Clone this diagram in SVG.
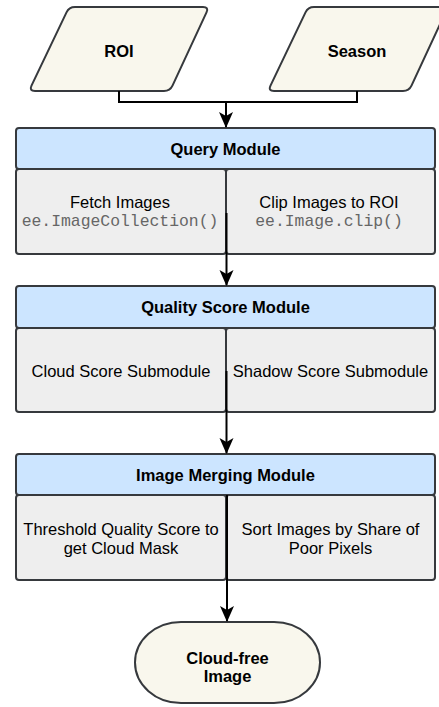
<svg xmlns="http://www.w3.org/2000/svg" width="439" height="707" viewBox="0 0 439 707">
<defs>
<style>
.io{fill:#f9f7ed;stroke:#36393d;stroke-width:2}
.hd{fill:#cce5ff;stroke:#36393d;stroke-width:2}
.sb{fill:#eeeeee;stroke:#36393d;stroke-width:2}
.t{font-family:"Liberation Sans",Arial,sans-serif;font-size:16.5px;fill:#000;text-anchor:middle}
.b{font-weight:bold}
.m{font-family:"Liberation Mono","Courier New",monospace;font-size:16.4px;fill:#666;text-anchor:middle}
.c{fill:none;stroke:#000;stroke-width:2}
</style>
<marker id="ah" viewBox="0 0 16 16" refX="15" refY="8" markerWidth="16" markerHeight="16" markerUnits="userSpaceOnUse" orient="auto">
<path d="M0,1 L16,8 L0,15 L4,8 Z" fill="#000"/>
</marker>
</defs>
<g id="roi">
<path class="io" d="M75,7 L203,7 Q209,7 206.5,12.4 L172.5,85.6 Q170,91 164,91 L35,91 Q29,91 31.5,85.6 L66.5,12.4 Q69,7 75,7 Z"/>
<text class="t b" x="119" y="56.5">ROI</text>
</g>
<g id="season">
<path class="io" d="M314,7 L442,7 Q448,7 445.5,12.4 L411.5,85.6 Q409,91 403,91 L274,91 Q268,91 270.5,85.6 L305.5,12.4 Q308,7 314,7 Z"/>
<text class="t b" x="357" y="56.5">Season</text>
</g>
<g id="query">
<rect class="hd" x="16" y="128" width="419" height="41" rx="3"/>
<text class="t b" x="225.5" y="154.5">Query Module</text>
<rect class="sb" x="16" y="169" width="210" height="85" rx="3"/>
<rect class="sb" x="226" y="169" width="209" height="85" rx="3"/>
<text class="t" x="120" y="208">Fetch Images</text>
<text class="m" x="120" y="225.5">ee.ImageCollection()</text>
<text class="t" x="329" y="208">Clip Images to ROI</text>
<text class="m" x="329" y="225.5">ee.Image.clip()</text>
</g>
<g id="quality">
<rect class="hd" x="16" y="286" width="419" height="42" rx="3"/>
<text class="t b" x="225.5" y="313">Quality Score Module</text>
<rect class="sb" x="16" y="328" width="210" height="84" rx="3"/>
<rect class="sb" x="226" y="328" width="209" height="84" rx="3"/>
<text class="t" x="121" y="377">Cloud Score Submodule</text>
<text class="t" x="330.5" y="377">Shadow Score Submodule</text>
</g>
<g id="merging">
<rect class="hd" x="16" y="454" width="419" height="41" rx="3"/>
<text class="t b" x="225.5" y="480.5">Image Merging Module</text>
<rect class="sb" x="16" y="495" width="210" height="85" rx="3"/>
<rect class="sb" x="226" y="495" width="209" height="85" rx="3"/>
<text class="t" x="121" y="535">Threshold Quality Score to</text>
<text class="t" x="121" y="554">get Cloud Mask</text>
<text class="t" x="330.5" y="535">Sort Images by Share of</text>
<text class="t" x="330.5" y="554">Poor Pixels</text>
</g>
<g id="output">
<rect class="io" x="135" y="622" width="185" height="81" rx="46" ry="40.5"/>
<text class="t b" x="227.5" y="664">Cloud-free</text>
<text class="t b" x="227.5" y="682">Image</text>
</g>
<g id="connectors">
<path class="c" d="M119,91 V102 H357 V91"/>
<path class="c" d="M226,102 V127" marker-end="url(#ah)"/>
<path class="c" d="M226.5,213 V285" marker-end="url(#ah)"/>
<path class="c" d="M226.5,371 V453" marker-end="url(#ah)"/>
<path class="c" d="M227,495 V621" marker-end="url(#ah)"/>
</g>
</svg>
